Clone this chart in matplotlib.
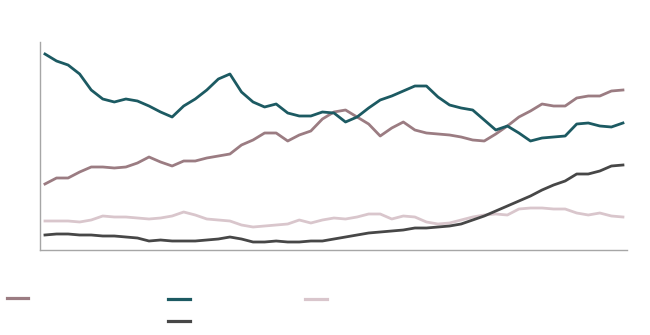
import numpy as np
import matplotlib
matplotlib.use("Agg")
import matplotlib.pyplot as plt
from matplotlib.lines import Line2D

# 51 periods, values (arbitrary units)
periods = np.arange(51)

teal_vals = [196, 189, 185, 176, 160, 151, 148, 151, 149, 144, 138, 133, 144,
             151, 160, 171, 176, 158, 148, 143, 146, 137, 134, 134, 138, 137,
             128, 133, 142, 150, 154, 159, 164, 164, 153, 145, 142, 140, 130,
             120, 124, 117, 109, 112, 113, 114, 126, 127, 124, 123, 127]
mauve_vals = [66, 72, 72, 78, 83, 83, 82, 83, 87, 93, 88, 84, 89,
              89, 92, 94, 96, 105, 110, 117, 117, 109, 115, 119, 131, 138,
              140, 133, 126, 114, 122, 128, 120, 117, 116, 115, 113, 110, 109,
              116, 124, 133, 139, 146, 144, 144, 152, 154, 154, 159, 160]
pink_vals = [29, 29, 29, 28, 30, 34, 33, 33, 32, 31, 32, 34, 38,
             35, 31, 30, 29, 25, 23, 24, 25, 26, 30, 27, 30, 32,
             31, 33, 36, 36, 31, 34, 33, 28, 26, 27, 30, 33, 35,
             36, 35, 41, 42, 42, 41, 41, 37, 35, 37, 34, 33]
grey_vals = [15, 16, 16, 15, 15, 14, 14, 13, 12, 9, 10, 9, 9,
             9, 10, 11, 13, 11, 8, 8, 9, 8, 8, 9, 9, 11,
             13, 15, 17, 18, 19, 20, 22, 22, 23, 24, 26, 30, 34,
             39, 44, 49, 54, 60, 65, 69, 76, 76, 79, 84, 85]

colors = {
    "mauve": "#9b7c82",
    "teal": "#1c5a62",
    "pink": "#d9c6cc",
    "grey": "#474747",
}

fig = plt.figure(figsize=(6.5, 3.35), dpi=100)
ax = fig.add_axes([40 / 650, 1 - 250 / 335, 587 / 650, 208 / 335])

lw = 2.0
ax.plot(periods, pink_vals, color=colors["pink"], lw=lw, solid_joinstyle="round")
ax.plot(periods, grey_vals, color=colors["grey"], lw=lw, solid_joinstyle="round")
ax.plot(periods, mauve_vals, color=colors["mauve"], lw=lw, solid_joinstyle="round")
ax.plot(periods, teal_vals, color=colors["teal"], lw=lw, solid_joinstyle="round")

ax.set_xlim(-0.43, 50.35)
ax.set_ylim(0, 208)
ax.set_xticks([])
ax.set_yticks([])
for side in ("top", "right"):
    ax.spines[side].set_visible(False)
for side in ("left", "bottom"):
    ax.spines[side].set_color("#a6a6a6")
    ax.spines[side].set_linewidth(1.0)

# legend keys (labels are blank in the reference)
keys = [
    ("mauve", 7, 28, 298),
    ("teal", 168, 190, 299),
    ("pink", 305, 327, 299),
    ("grey", 168, 190, 321),
]
for name, x0, x1, y in keys:
    fig.add_artist(Line2D([x0 / 650, x1 / 650], [1 - y / 335, 1 - y / 335],
                          color=colors[name], lw=2.3, transform=fig.transFigure))

fig.savefig("out.png", dpi=100)
